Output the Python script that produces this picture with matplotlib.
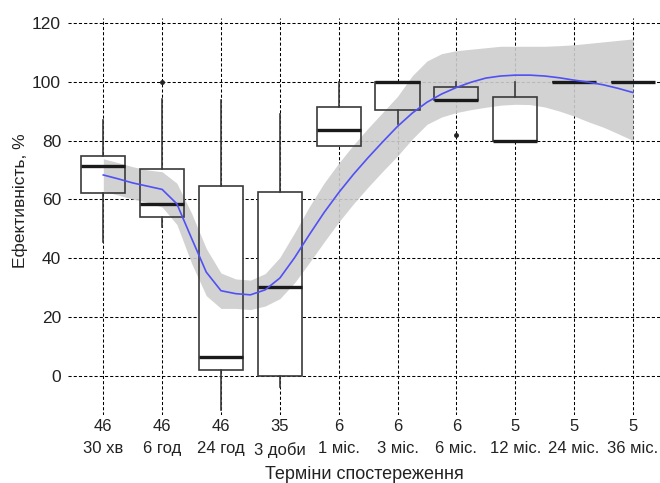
import matplotlib
matplotlib.use("Agg")
import matplotlib.pyplot as plt
from matplotlib import font_manager

# ---------------- data ----------------
categories = ["30 хв", "6 год", "24 год", "3 доби", "1 міс.", "3 міс.",
              "6 міс.", "12 міс.", "24 міс.", "36 міс."]
counts = [46, 46, 46, 35, 6, 6, 6, 5, 5, 5]
q1 = [62.3, 53.9, 2.0, 0.0, 78.3, 90.2, 93.6, 80.0, 100, 100]
med = [71.5, 58.3, 6.5, 30.1, 83.6, 100, 93.6, 80.0, 100, 100]
q3 = [74.9, 70.4, 64.4, 62.5, 91.3, 100, 98.3, 94.9, 100, 100]
whislo = [45.5, 50.6, -11.5, -3.6, 78.3, 85.6, 93.6, 80.0, 100, 100]
whishi = [86.8, 94.2, 93.6, 89.0, 100, 100, 100, 100, 100, 100]
fliers = [[], [100], [], [], [], [], [82], [], [], []]

# smooth (loess-like) fit and its confidence band
fit_x = [1.0, 1.25, 1.5, 1.75, 2.0, 2.25, 2.5, 2.75, 3.0, 3.25, 3.5, 3.75,
         4.0, 4.25, 4.5, 4.75, 5.0, 5.25, 5.5, 5.75, 6.0, 6.25, 6.5, 6.75,
         7.0, 7.25, 7.5, 7.75, 8.0, 8.25, 8.5, 8.75, 9.0, 9.25, 9.5, 9.75, 10.0]
fit_y = [68.3, 67.0, 65.6, 64.5, 63.4, 58.5, 46.8, 35.3, 29.0, 28.0, 27.6, 29.3,
         33.3, 40.2, 48.0, 55.5, 62.3, 68.5, 74.2, 79.6, 84.8, 89.3, 93.0, 95.8,
         98.0, 99.8, 101.2, 101.9, 102.2, 102.2, 101.9, 101.3, 100.5, 99.8, 98.9, 97.7, 96.3]
band_lo = [62.8, 61.5, 60.1, 59.0, 57.4, 51.5, 38.3, 27.3, 23.0, 23.0, 22.6, 23.8,
           26.3, 31.7, 38.5, 45.5, 52.3, 58.5, 64.2, 69.6, 74.8, 80.5, 85.5, 88.0,
           89.5, 90.5, 91.3, 92.0, 92.3, 92.2, 91.4, 90.0, 88.3, 86.3, 84.5, 82.3, 80.0]
band_hi = [73.8, 72.5, 71.1, 70.0, 69.4, 65.5, 55.3, 43.3, 35.0, 33.0, 32.6, 34.8,
           40.3, 48.7, 57.5, 65.5, 72.3, 78.5, 84.2, 89.6, 95.0, 102.0, 107.0, 109.5,
           110.5, 111.0, 111.5, 112.0, 112.0, 112.0, 112.0, 112.2, 112.5, 113.0, 113.5, 114.0, 114.5]

yticks = [0, 20, 40, 60, 80, 100, 120]

# ---------------- style ----------------
avail = {f.name for f in font_manager.fontManager.ttflist}
fam = "Liberation Sans" if "Liberation Sans" in avail else "DejaVu Sans"
plt.rcParams["font.family"] = [fam, "DejaVu Sans"]

fig = plt.figure(figsize=(6.6, 4.83), dpi=100)
ax = fig.add_axes([68 / 660, 1 - 415 / 483, 592 / 660, 397 / 483])

positions = list(range(1, len(categories) + 1))
stats = []
for i in range(len(categories)):
    stats.append(dict(med=med[i], q1=q1[i], q3=q3[i], whislo=whislo[i],
                      whishi=whishi[i], fliers=fliers[i], label=categories[i]))

# white box fill (below band)
ax.bxp(stats, positions=positions, widths=0.75, patch_artist=True,
       showcaps=False, showfliers=False,
       boxprops=dict(facecolor="white", edgecolor="none", linewidth=0),
       whiskerprops=dict(linewidth=0), medianprops=dict(linewidth=0),
       zorder=1)

# confidence band
ax.fill_between(fit_x, band_lo, band_hi, color="#cdcdcd", alpha=0.9,
                linewidth=0, zorder=2)

# box outlines, whiskers, medians, fliers
ax.bxp(stats, positions=positions, widths=0.75, patch_artist=True,
       showcaps=False, showfliers=True,
       boxprops=dict(facecolor="none", edgecolor="#3a3a3a", linewidth=1.2),
       whiskerprops=dict(color="#3a3a3a", linewidth=1.2),
       medianprops=dict(color="#1a1a1a", linewidth=2.4),
       flierprops=dict(marker="o", markersize=2.5, markerfacecolor="#222222",
                       markeredgecolor="#222222"),
       zorder=3)

# fit line
ax.plot(fit_x, fit_y, color="#5050f5", linewidth=1.2, zorder=4)

# grid and axes
ax.set_xlim(0.4, 10.46)
ax.set_ylim(-13.2, 121.6)
ax.set_yticks(yticks)
ax.set_yticklabels([str(v) for v in yticks], fontsize=12.5, color="#222222")
ax.set_xticks(positions)
ax.set_xticklabels([f"{c}\n{n}" for c, n in zip(counts, categories)],
                   fontsize=12, linespacing=1.6, color="#222222")
ax.tick_params(axis="both", length=0)
ax.tick_params(axis="x", pad=3)
ax.tick_params(axis="y", pad=5)
for s in ax.spines.values():
    s.set_visible(False)
ax.grid(True, color="black", linestyle=(0, (3, 2)), linewidth=0.75, zorder=0)
ax.set_axisbelow(True)

ax.set_ylabel("Ефективність, %", fontsize=12.5, color="#222222")
ax.yaxis.set_label_coords(-0.068, 0.54)
ax.set_xlabel("Терміни спостереження", fontsize=13, color="#222222")
ax.xaxis.set_label_coords(0.5, -0.128)

fig.savefig("out.png", dpi=100)
